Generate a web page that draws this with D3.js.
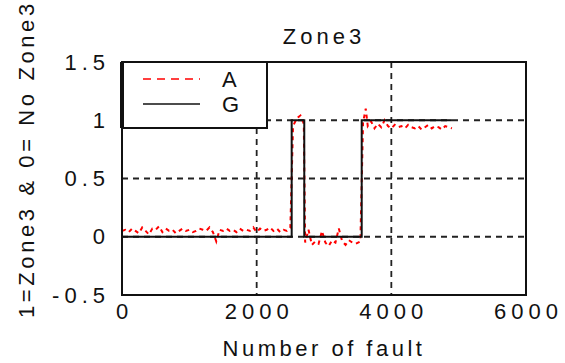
<!DOCTYPE html>
<html>
<head>
<meta charset="utf-8">
<script src="https://cdn.jsdelivr.net/npm/d3@7"></script>
<style>
  body { margin: 0; background: #fff; }
  text { font-family: "Liberation Sans", Arial, sans-serif; fill: #111; }
</style>
</head>
<body>
<svg class="chart" width="565" height="363"></svg>
<script>
// step signal G (ideal zone3 decision)
var faultsG = [0, 2520, 2707, 3560, 4900];
var valuesG = [0, 1, 0, 1, 1];

// output A
var faultsA = [0, 50, 100, 150, 200, 250, 300, 350, 400, 450, 500, 550, 600, 650, 700, 750, 800, 850, 900, 950,
  1000, 1050, 1100, 1150, 1200, 1250, 1300, 1350, 1400, 1450, 1500, 1550, 1600, 1650, 1700, 1750, 1800, 1850, 1900, 1950,
  2000, 2050, 2100, 2150, 2200, 2250, 2300, 2350, 2400, 2450, 2500,
  2540, 2600, 2650, 2700,
  2720, 2770, 2820, 2870, 2920, 2970, 3020, 3070, 3120, 3170, 3220, 3270, 3320, 3370, 3420, 3470, 3540,
  3580, 3620, 3650, 3700, 3750, 3800, 3850, 3900, 3950, 4000, 4050, 4100, 4150, 4200, 4250, 4300, 4350, 4400, 4450, 4500,
  4550, 4600, 4650, 4700, 4750, 4800, 4850, 4900];
var valuesA = [0.05, 0.06, 0.04, 0.07, 0.05, 0.03, 0.08, 0.05, 0.02, 0.07, 0.06, 0.09, 0.04, 0.07, 0.05, 0.06, 0.03, 0.05, 0.07, 0.05,
  0.06, 0.04, 0.05, 0.07, 0.06, 0.05, 0.08, 0.04, -0.04, 0.06, 0.05, 0.07, 0.05, 0.06, 0.04, 0.07, 0.05, 0.06, 0.05, 0.08,
  0.04, 0.07, 0.05, 0.06, 0.08, 0.05, 0.07, 0.04, 0.06, 0.05, 0.08,
  0.95, 1.02, 1.04, 0.97,
  -0.05, 0.06, -0.07, -0.04, -0.06, 0.05, -0.05, -0.08, -0.03, -0.05, 0.07, -0.04, -0.07, -0.03, -0.05, -0.06, -0.04,
  0.98, 1.1, 0.95, 0.99, 0.93, 0.97, 0.94, 1.0, 0.95, 0.93, 0.96, 0.94, 0.95, 0.93, 0.96, 0.94, 0.93, 0.95, 0.92, 0.94,
  0.96, 0.93, 0.95, 0.94, 0.92, 0.95, 0.94, 0.93];

var xTicks = [0, 2000, 4000, 6000];
var yTicks = [-0.5, 0, 0.5, 1, 1.5];
var xGrid = [2000, 4000];
var yGrid = [0, 0.5, 1];

var svg = d3.select(".chart"),
    margin = {top: 62, right: 39, bottom: 68, left: 122},
    width = +svg.attr("width") - margin.left - margin.right,
    height = +svg.attr("height") - margin.top - margin.bottom;
var g = svg.append("g").attr("transform", "translate(" + margin.left + "," + margin.top + ")");

var x = d3.scaleLinear().domain([0, 6000]).range([0, width]);
var y = d3.scaleLinear().domain([-0.5, 1.5]).range([height, 0]);

// dashed grid
g.selectAll(".vgrid").data(xGrid).enter().append("line")
    .attr("x1", d => x(d)).attr("x2", d => x(d))
    .attr("y1", 0).attr("y2", height)
    .attr("stroke", "#222").attr("stroke-width", 1.8).attr("stroke-dasharray", "6,5");
g.selectAll(".hgrid").data(yGrid).enter().append("line")
    .attr("x1", 0).attr("x2", width)
    .attr("y1", d => y(d)).attr("y2", d => y(d))
    .attr("stroke", "#222").attr("stroke-width", 1.8).attr("stroke-dasharray", "6,5");

// A line (red dashed)
var dataA = faultsA.map((f, i) => ({f: f, v: valuesA[i]}));
g.append("path")
    .datum(dataA)
    .attr("fill", "none")
    .attr("stroke", "#ff0000")
    .attr("stroke-width", 2)
    .attr("stroke-dasharray", "4,4")
    .attr("d", d3.line().x(d => x(d.f)).y(d => y(d.v)));

// G line (black step)
var dataG = faultsG.map((f, i) => ({f: f, v: valuesG[i]}));
g.append("path")
    .datum(dataG)
    .attr("fill", "none")
    .attr("stroke", "#111")
    .attr("stroke-width", 2)
    .attr("d", d3.line().curve(d3.curveStepAfter).x(d => x(d.f)).y(d => y(d.v)));

// frame
g.append("rect")
    .attr("width", width).attr("height", height)
    .attr("fill", "none").attr("stroke", "#111").attr("stroke-width", 2);

// axes (labels only)
var xAxis = g.append("g")
    .attr("transform", "translate(0," + height + ")")
    .call(d3.axisBottom(x).tickValues(xTicks).tickSize(0).tickPadding(8).tickFormat(d => d));
var yAxis = g.append("g")
    .call(d3.axisLeft(y).tickValues(yTicks).tickSize(0).tickPadding(12).tickFormat(d => d));
[xAxis, yAxis].forEach(function(a) {
  a.select(".domain").remove();
  a.selectAll("text")
      .style("font-family", "Liberation Sans, Arial, sans-serif")
      .style("font-size", "22px")
      .style("letter-spacing", "5px")
      .attr("fill", "#111");
});
xAxis.selectAll("text").attr("dx", "2px");

// legend
var legend = g.append("g");
legend.append("rect")
    .attr("x", 0).attr("y", 0).attr("width", 145).attr("height", 66)
    .attr("fill", "#fff").attr("stroke", "#111").attr("stroke-width", 2);
legend.append("line").attr("x1", 0).attr("x2", 0).attr("y1", 0).attr("y2", 66)
    .attr("stroke", "#111").attr("stroke-width", 4);
legend.append("line").attr("x1", 21).attr("x2", 78).attr("y1", 17).attr("y2", 17)
    .attr("stroke", "#ff0000").attr("stroke-width", 1.5).attr("stroke-dasharray", "8,6");
legend.append("line").attr("x1", 21).attr("x2", 78).attr("y1", 42).attr("y2", 42)
    .attr("stroke", "#111").attr("stroke-width", 1.5);
legend.append("text").attr("x", 100).attr("y", 25).style("font-size", "22px").text("A");
legend.append("text").attr("x", 100).attr("y", 50).style("font-size", "22px").text("G");

// title and axis labels
svg.append("text")
    .attr("x", margin.left + width / 2).attr("y", 44)
    .attr("text-anchor", "middle")
    .style("font-size", "22px").style("letter-spacing", "4px")
    .text("Zone3");
svg.append("text")
    .attr("x", margin.left + width / 2).attr("y", 356)
    .attr("text-anchor", "middle")
    .style("font-size", "22px").style("letter-spacing", "3.5px")
    .text("Number of fault");
svg.append("text")
    .attr("transform", "translate(34,318) rotate(-90)")
    .attr("text-anchor", "start")
    .style("font-size", "22px").style("letter-spacing", "3.6px")
    .text("1=Zone3 & 0= No Zone3");
</script>
</body>
</html>
